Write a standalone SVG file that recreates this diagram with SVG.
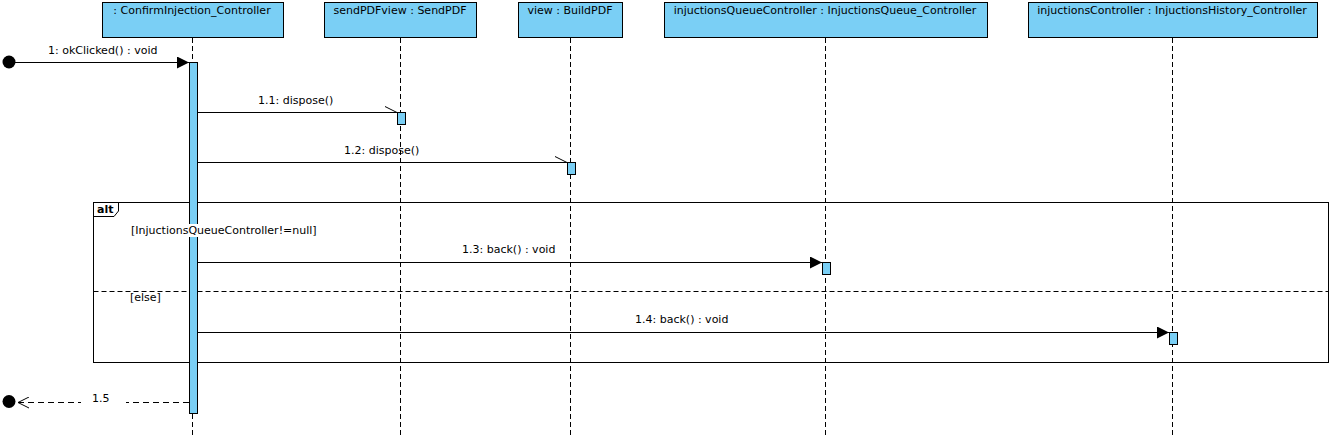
<svg xmlns="http://www.w3.org/2000/svg" width="1332" height="438" viewBox="0 0 1332 438">
<style>
text{font-family:"DejaVu Sans","Liberation Sans",sans-serif;font-size:11px;fill:#000}
.head{fill:#7ACFF5;stroke:#000;stroke-width:1}
.act{fill:#7ACFF5;stroke:#000;stroke-width:1}
.life{stroke:#000;stroke-width:1;stroke-dasharray:5,3;fill:none}
.msg{stroke:#000;stroke-width:1;fill:none}
.ret{stroke:#000;stroke-width:1;fill:none;stroke-dasharray:6,4}
.frame{fill:none;stroke:#000;stroke-width:1}
.sep{stroke:#000;stroke-width:1;stroke-dasharray:5,3}
.mid{text-anchor:middle}
</style>
<defs>
<marker id="filled" markerWidth="12" markerHeight="12" refX="12" refY="6" orient="auto" markerUnits="userSpaceOnUse">
<path d="M0,0 L12,6 L0,12 Z" fill="#000"/>
</marker>
<marker id="half" markerWidth="13" markerHeight="8" refX="12" refY="7" orient="auto" markerUnits="userSpaceOnUse">
<path d="M0,1 L12,7" stroke="#000" stroke-width="1" fill="none"/>
</marker>
<marker id="open" markerWidth="13" markerHeight="12" refX="1" refY="6" orient="auto" markerUnits="userSpaceOnUse">
<path d="M12,0.5 L1,6 L12,11.5" stroke="#000" stroke-width="1" fill="none"/>
</marker>
</defs>
<rect width="1332" height="438" fill="#fff"/>

<g id="frame-alt">
<rect class="frame" x="93.5" y="202.5" width="1235" height="160"/>
<path class="frame" d="M93.5,202.5 H118.5 V211 L114,216.5 H93.5"/>
<text x="97" y="213" style="font-weight:bold">alt</text>
<line class="sep" x1="93.5" y1="291.5" x2="1328.5" y2="291.5"/>
<text x="130" y="301">[else]</text>
</g>

<g id="lifeline-confirm">
<rect class="head" x="102.5" y="2.5" width="181" height="35"/>
<text class="mid" x="192" y="14">: ConfirmInjection_Controller</text>
<line class="life" x1="192.5" y1="38" x2="192.5" y2="438"/>
<rect class="act" x="189.5" y="62.5" width="8" height="351"/>
</g>

<g id="lifeline-sendpdf">
<rect class="head" x="324.5" y="2.5" width="152" height="35"/>
<text class="mid" x="400" y="14">sendPDFview : SendPDF</text>
<line class="life" x1="400.5" y1="38" x2="400.5" y2="438"/>
<rect class="act" x="397.5" y="112.5" width="8" height="12"/>
</g>

<g id="lifeline-buildpdf">
<rect class="head" x="518.5" y="2.5" width="104" height="35"/>
<text class="mid" x="570" y="14">view : BuildPDF</text>
<line class="life" x1="570.5" y1="38" x2="570.5" y2="438"/>
<rect class="act" x="567.5" y="162.5" width="8" height="12"/>
</g>

<g id="lifeline-queue">
<rect class="head" x="664.5" y="2.5" width="323" height="35"/>
<text class="mid" x="825" y="14">injuctionsQueueController : InjuctionsQueue_Controller</text>
<line class="life" x1="825.5" y1="38" x2="825.5" y2="438"/>
<rect class="act" x="822.5" y="262.5" width="8" height="12"/>
</g>

<g id="lifeline-history">
<rect class="head" x="1028.5" y="2.5" width="289" height="35"/>
<text class="mid" x="1172" y="14">injuctionsController : InjuctionsHistory_Controller</text>
<line class="life" x1="1172.5" y1="38" x2="1172.5" y2="438"/>
<rect class="act" x="1169.5" y="332.5" width="8" height="12"/>
</g>

<g id="connectors">
<circle cx="9" cy="62" r="6.5" fill="#000"/>
<line class="msg" x1="9" y1="62.5" x2="189" y2="62.5" marker-end="url(#filled)"/>
<text x="48" y="54">1: okClicked() : void</text>

<line class="msg" x1="198" y1="112.5" x2="397" y2="112.5" marker-end="url(#half)"/>
<text x="258" y="104">1.1: dispose()</text>

<line class="msg" x1="198" y1="162.5" x2="567" y2="162.5" marker-end="url(#half)"/>
<text x="344" y="154">1.2: dispose()</text>

<line class="msg" x1="198" y1="262.5" x2="822" y2="262.5" marker-end="url(#filled)"/>
<text x="462" y="253">1.3: back() : void</text>

<line class="msg" x1="198" y1="332.5" x2="1169" y2="332.5" marker-end="url(#filled)"/>
<text x="635" y="323">1.4: back() : void</text>

<circle cx="9" cy="401.5" r="6.5" fill="#000"/>
<line class="ret" x1="18" y1="402.5" x2="81" y2="402.5" marker-start="url(#open)"/>
<line class="ret" x1="189" y1="402.5" x2="126" y2="402.5"/>
<text x="92" y="402">1.5</text>
</g>

<g id="guard">
<rect x="131" y="224" width="186" height="13" fill="#fff"/>
<text x="131" y="234">[InjuctionsQueueController!=null]</text>
</g>
</svg>
